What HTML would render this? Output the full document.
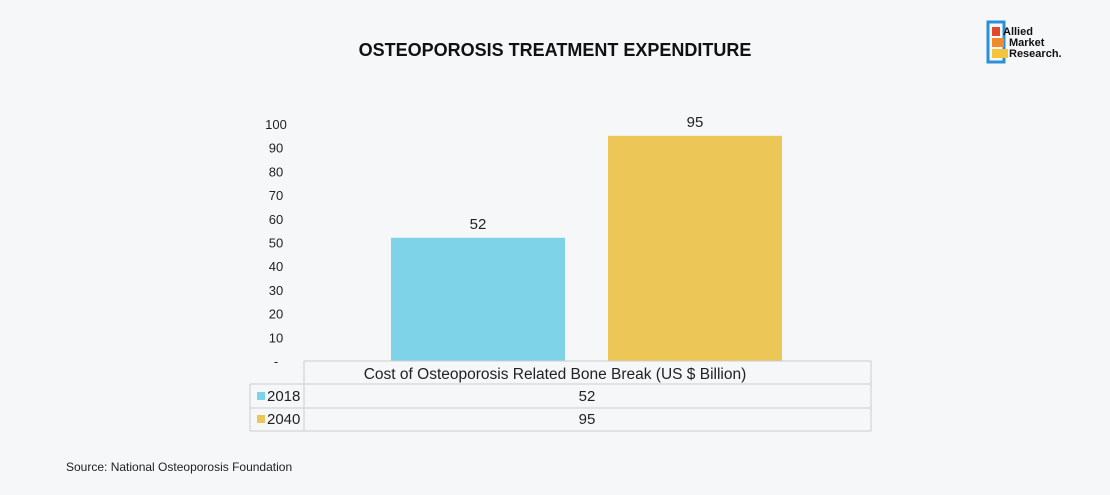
<!DOCTYPE html>
<html><head><meta charset="utf-8"><style>
body{margin:0;width:1110px;height:495px;overflow:hidden;background:#f6f7f9;font-family:"Liberation Sans",sans-serif;}
svg{display:block}
</style></head><body>
<svg width="1110" height="495">
<rect width="1110" height="495" fill="#f6f7f9"/>
<text x="555" y="56" text-anchor="middle" font-size="18" font-weight="bold" fill="#111">OSTEOPOROSIS TREATMENT EXPENDITURE</text>
<g>
<rect x="988" y="22" width="16" height="40" fill="none" stroke="#2a8fd6" stroke-width="3"/>
<rect x="992" y="27" width="8" height="9" fill="#e0482c"/>
<rect x="992" y="38" width="12" height="9" fill="#f08a2c"/>
<rect x="992" y="49" width="16" height="9" fill="#f6c43a"/>
<text x="1003" y="35" font-size="11" font-weight="bold" fill="#111">Allied</text>
<text x="1009" y="46" font-size="11" font-weight="bold" fill="#111">Market</text>
<text x="1009" y="57" font-size="11" font-weight="bold" fill="#111">Research.</text>
</g>
<g id="ticks"></g>
<g id="bars"></g>
<g stroke="#ccc" fill="none">
<rect x="304" y="361" width="567" height="70"/>
<line x1="304" y1="384" x2="871" y2="384"/>
<line x1="250" y1="384" x2="304" y2="384"/>
<line x1="250" y1="408" x2="871" y2="408"/>
<line x1="250" y1="431" x2="304" y2="431"/>
<line x1="250" y1="384" x2="250" y2="431"/>
</g>
<text x="555" y="379" text-anchor="middle" font-size="15.5" fill="#222">Cost of Osteoporosis Related Bone Break (US $ Billion)</text>
<g id="rows"></g>
<text x="66" y="471" font-size="12" fill="#222">Source: National Osteoporosis Foundation</text>
</svg>
<script>
const series=["2018","2040"];
const values=[52,95];
const colors=["#7fd3e9","#ecc758"];
const tickVals=[0,10,20,30,40,50,60,70,80,90,100];
const NS="http://www.w3.org/2000/svg";
const y=v=>361-v*2.37;
const barX=[391,608],barW=174;
function mk(t,a,p){const e=document.createElementNS(NS,t);for(const k in a)e.setAttribute(k,a[k]);p.appendChild(e);return e;}
const tg=document.getElementById('ticks');
tickVals.forEach(v=>{const t=mk('text',{x:276,y:y(v)+5,'text-anchor':'middle','font-size':13,fill:'#222'},tg);


t.textContent=v===0?'-':v;});
const bg=document.getElementById('bars');
values.forEach((v,i)=>{const r=mk('rect',{x:barX[i],y:y(v),width:barW,height:361-y(v),fill:colors[i]},bg);


const t=mk('text',{x:barX[i]+barW/2,y:y(v)-9,'text-anchor':'middle','font-size':15,fill:'#222'},bg);


t.textContent=v;});
const rg=document.getElementById('rows');
values.forEach((v,i)=>{const cy=401+i*23;
const s=mk('rect',{x:257,y:cy-9,width:8,height:8,fill:colors[i]},rg);


const l=mk('text',{x:267,y:cy,'font-size':15,fill:'#222'},rg);


l.textContent=series[i];
const c=mk('text',{x:587,y:cy,'text-anchor':'middle','font-size':15,fill:'#222'},rg);


c.textContent=v;});
</script>
</body></html>
